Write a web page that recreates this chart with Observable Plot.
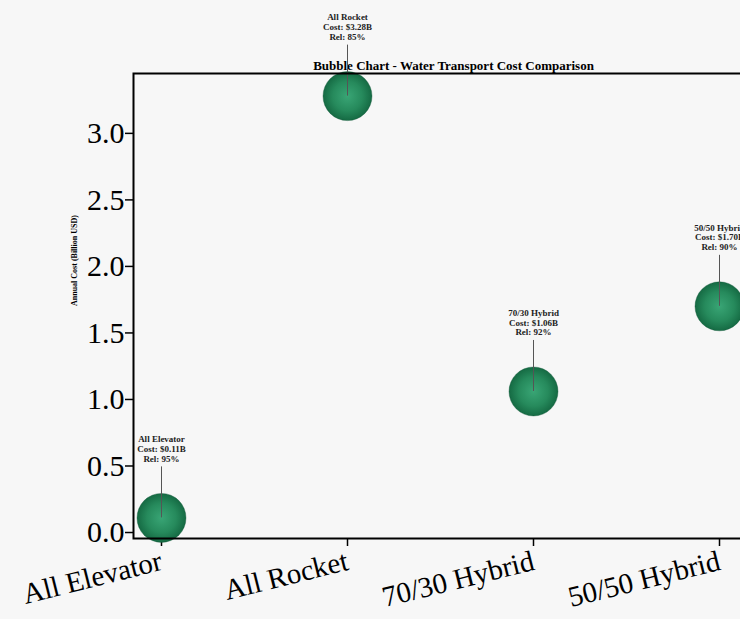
<!DOCTYPE html>
<html>
<head>
<meta charset="utf-8">
<script src="https://cdn.jsdelivr.net/npm/d3@7"></script>
<script src="https://cdn.jsdelivr.net/npm/@observablehq/plot@0.6"></script>
<style>
  html, body { margin: 0; padding: 0; background: #f7f7f7; overflow: hidden; width: 740px; height: 619px; }
  #chart svg { display: block; max-width: none !important; }
</style>
</head>
<body>
<div id="chart"></div>
<script>
const categories = ["All Elevator", "All Rocket", "70/30 Hybrid", "50/50 Hybrid"];
const costs = [0.11, 3.28, 1.06, 1.70];
const reliability = [95, 85, 92, 90];
const yTicks = [0, 0.5, 1.0, 1.5, 2.0, 2.5, 3.0];
const title = "Bubble Chart - Water Transport Cost Comparison";
const yLabel = "Annual Cost (Billion USD)";

const data = categories.map((c, i) => ({
  category: c,
  cost: costs[i],
  rel: reliability[i],
  label: `${c}\nCost: $${costs[i].toFixed(2)}B\nRel: ${reliability[i]}%`
}));

const serif = "'Liberation Serif', 'Times New Roman', serif";

const chart = Plot.plot({
  width: 760,
  height: 619,
  marginTop: 73,
  marginBottom: 81,
  marginLeft: 133,
  marginRight: 13,
  style: { fontFamily: serif, fontSize: "30px", background: "#f7f7f7", color: "#000", maxWidth: "none" },
  x: { type: "point", domain: categories, padding: 0.15 },
  y: { domain: [-0.045, 3.45] },
  marks: [
    Plot.axisY({ ticks: yTicks, tickFormat: d3.format(".1f"), tickSize: 8, tickPadding: 1, strokeWidth: 1.5, label: null, fontSize: 30 }),
    Plot.axisX({ tickRotate: -14, tickSize: 8, tickPadding: 14, strokeWidth: 1.5, label: null, fontSize: 29 }),
    Plot.text([yLabel], { frameAnchor: "left", rotate: -90, dx: -59, fontSize: 8, fontWeight: "bold", fontFamily: serif }),
    Plot.text([title], { frameAnchor: "top", dx: 13, dy: -4, lineAnchor: "bottom", fontSize: 13, fontWeight: "bold", fontFamily: serif }),
    Plot.dot(data, { x: "category", y: "cost", r: 24.5, fill: "url(#bubbleGrad)", stroke: "#0f5535", strokeWidth: 0.6, strokeOpacity: 0.6 }),
    Plot.ruleX(data, { x: "category", y1: "cost", y2: "cost", insetTop: -51, stroke: "#555", strokeWidth: 1 }),
    Plot.text(data, { x: "category", y: "cost", text: "label", lineAnchor: "bottom", dy: -56, fontSize: 9, fontWeight: "bold", lineHeight: 1.1, fontFamily: serif, fill: "#222" }),
    Plot.frame({ stroke: "#000", strokeWidth: 2 })
  ]
});

const ns = "http://www.w3.org/2000/svg";
const defs = document.createElementNS(ns, "defs");
defs.innerHTML = `<radialGradient id="bubbleGrad" cx="50%" cy="50%" r="50%">
  <stop offset="0%" stop-color="#39a575"/>
  <stop offset="60%" stop-color="#268a5c"/>
  <stop offset="100%" stop-color="#156a43"/>
</radialGradient>`;
chart.insertBefore(defs, chart.firstChild);
document.getElementById("chart").appendChild(chart);
</script>
</body>
</html>
